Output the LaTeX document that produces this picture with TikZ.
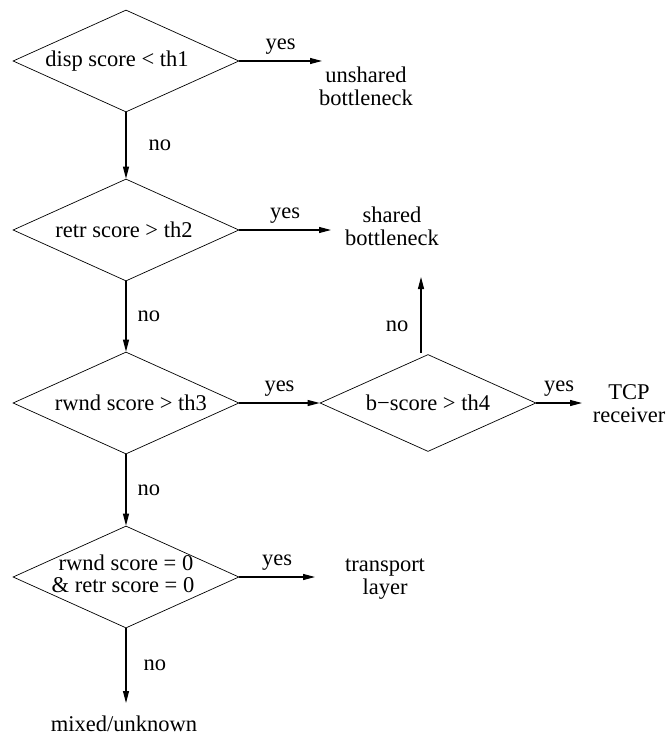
\documentclass[tikz,border=0pt]{standalone}
\usepackage{fontspec}
\setmainfont{Liberation Serif}
\usetikzlibrary{shapes.geometric,arrows.meta}

\begin{document}
\begin{tikzpicture}[x=1pt,y=-1pt,
  every node/.style={font=\fontsize{22.5}{23}\selectfont, inner sep=0pt},
  test/.style={diamond, draw, line width=0.7pt, minimum width=226pt, minimum height=102pt},
  flow/.style={-{Triangle[length=12pt,width=6pt]}, line width=1.1pt},
  lbl/.style={align=center}]
\useasboundingbox (0,0) rectangle (665,738);

% decision diamonds (text centred independently of the outline)
\node[test] (d1) at (126,61)  {\makebox[0pt]{\hspace*{-18pt}disp score < th1}};
\node[test] (d2) at (126,230) {\makebox[0pt]{\hspace*{-4pt}retr score > th2}};
\node[test] (d3) at (126,403) {\makebox[0pt]{\hspace*{10pt}rwnd score > th3}};
\node[test, minimum width=216pt, minimum height=97pt] (d4) at (428,403) {\makebox[0pt]{b−score > th4}};
\node[test] (d5) at (126,577) {\makebox[0pt]{\begin{tabular}{@{}c@{}}rwnd score = 0\\[-1pt]\hspace*{-6pt}\& retr score = 0\end{tabular}}};

% outcomes
\node[lbl] (o1) at (366,86)  {unshared\\bottleneck};
\node[lbl] (o2) at (392,226) {shared\\bottleneck};
\node[lbl] (o4) at (629,404) {TCP\\receiver};
\node[lbl] (o5) at (385,579) {transport\\layer};
\node (o6) at (124,724) {mixed/unknown};

% free arrow ends
\coordinate (e1) at (322,61);
\coordinate (e2) at (331,230);
\coordinate (e4) at (421,277);
\coordinate (e4r) at (582,403);
\coordinate (e5) at (315,577);
\coordinate (e6) at (126,703);

% connectors
\draw[flow] (d1.east) -- node[above=6pt] {yes} (e1);
\draw[flow] (d1.south) -- node[right=22pt] {no} (d2.north);
\draw[flow] (d2.east) -- node[above=6pt] {yes} (e2);
\draw[flow] (d2.south) -- node[right=11pt] {no} (d3.north);
\draw[flow] (d3.east) -- node[above=6pt] {yes} (d4.west);
\draw[flow] (d3.south) -- node[right=11pt] {no} (d5.north);
\draw[flow] (421,353) -- node[left=12pt, pos=0.35] {no} (e4);
\draw[flow] (d4.east) -- node[above=6pt] {yes} (e4r);
\draw[flow] (d5.east) -- node[above=6pt] {yes} (e5);
\draw[flow] (d5.south) -- node[right=17pt] {no} (e6);
\end{tikzpicture}
\end{document}
